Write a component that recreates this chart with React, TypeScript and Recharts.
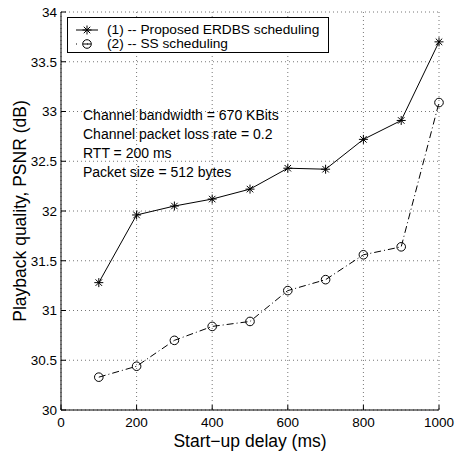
import React from "react";
import { LineChart, Line, XAxis, YAxis, CartesianGrid } from "recharts";

const delays = [100, 200, 300, 400, 500, 600, 700, 800, 900, 1000];
const erdbs = [31.28, 31.96, 32.05, 32.12, 32.22, 32.43, 32.42, 32.72, 32.91, 33.7];
const ss = [30.33, 30.44, 30.7, 30.84, 30.89, 31.2, 31.31, 31.56, 31.64, 33.09];
const xTicks = [0, 200, 400, 600, 800, 1000];
const yTicks = [30, 30.5, 31, 31.5, 32, 32.5, 33, 33.5, 34];
const seriesNames = ["(1) -- Proposed ERDBS scheduling", "(2) -- SS scheduling"];
const notes = [
  "Channel bandwidth = 670 KBits",
  "Channel packet loss rate = 0.2",
  "RTT = 200 ms",
  "Packet size = 512 bytes",
];

const data = delays.map((d, i) => ({ x: d, a: erdbs[i], b: ss[i] }));

const FONT = "'Liberation Sans', Arial, Helvetica, sans-serif";

const Star = ({ cx, cy }: { cx: number; cy: number }) => {
  const r = 4.5;
  const d = r * 0.72;
  return (
    <g stroke="#000" strokeWidth={1}>
      <line x1={cx - r} y1={cy} x2={cx + r} y2={cy} />
      <line x1={cx} y1={cy - r} x2={cx} y2={cy + r} />
      <line x1={cx - d} y1={cy - d} x2={cx + d} y2={cy + d} />
      <line x1={cx - d} y1={cy + d} x2={cx + d} y2={cy - d} />
    </g>
  );
};

const Ring = ({ cx, cy }: { cx: number; cy: number }) => (
  <circle cx={cx} cy={cy} r={4.3} fill="none" stroke="#000" strokeWidth={1} />
);

const LegendBox = () => (
  <div
    style={{
      position: "absolute",
      left: 67,
      top: 17,
      width: 260,
      height: 34,
      border: "1px solid #000",
      background: "#fff",
      fontFamily: FONT,
      fontSize: 13.7,
      color: "#000",
      boxSizing: "content-box",
    }}
  >
    {seriesNames.map((name, i) => (
      <div
        key={name}
        style={{ position: "absolute", left: 0, top: i === 0 ? 5 : 18.5, height: 14, width: 260 }}
      >
        <svg width={36} height={14} style={{ position: "absolute", left: 6, top: 0 }}>
          {i === 0 ? (
            <>
              <line x1={2} y1={7} x2={24} y2={7} stroke="#000" strokeWidth={1} />
              <Star cx={13} cy={7} />
            </>
          ) : (
            <>
              <line x1={2} y1={7} x2={24} y2={7} stroke="#000" strokeWidth={1} strokeDasharray="1 10" />
              <line x1={9} y1={7} x2={17} y2={7} stroke="#000" strokeWidth={1} />
              <Ring cx={13} cy={7} />
            </>
          )}
        </svg>
        <span style={{ position: "absolute", left: 39, top: -1, whiteSpace: "nowrap", lineHeight: "16px" }}>
          {name}
        </span>
      </div>
    ))}
  </div>
);

export default function App() {
  return (
    <div style={{ position: "absolute", left: 0, top: 0, width: 455, height: 453, background: "#fff" }}>
      <LineChart
        width={455}
        height={453}
        data={data}
        margin={{ top: 12, right: 16, left: 0, bottom: 0 }}
        style={{ fontFamily: FONT }}
      >
        <CartesianGrid stroke="#777" strokeDasharray="1 3" strokeWidth={1} />
        <XAxis
          dataKey="x"
          type="number"
          domain={[0, 1000]}
          ticks={xTicks}
          height={43}
          axisLine={{ stroke: "#000" }}
          tickLine={{ stroke: "#000" }}
          tickSize={-5}
          tickMargin={12}
          tick={{ fill: "#000", fontSize: 13.5, fontFamily: FONT }}
          label={{
            value: "Start\u2212up delay (ms)",
            position: "insideBottom",
            offset: 6,
            style: { fill: "#000", fontSize: 17.5, fontFamily: FONT },
          }}
        />
        <XAxis
          xAxisId="top"
          orientation="top"
          dataKey="x"
          type="number"
          domain={[0, 1000]}
          ticks={xTicks}
          height={0}
          axisLine={{ stroke: "#000" }}
          tickLine={{ stroke: "#000" }}
          tickSize={-5}
          tickFormatter={() => ""}
        />
        <YAxis
          type="number"
          domain={[30, 34]}
          ticks={yTicks}
          width={61}
          interval={0}
          axisLine={{ stroke: "#000" }}
          tickLine={{ stroke: "#000" }}
          tickSize={-5}
          tickMargin={9}
          tick={{ fill: "#000", fontSize: 13.5, fontFamily: FONT }}
          label={{
            value: "Playback quality, PSNR (dB)",
            angle: -90,
            position: "insideLeft",
            offset: 20,
            style: { fill: "#000", fontSize: 17.5, fontFamily: FONT, textAnchor: "middle" },
          }}
        />
        <YAxis
          yAxisId="right"
          orientation="right"
          type="number"
          domain={[30, 34]}
          ticks={yTicks}
          width={0}
          interval={0}
          axisLine={{ stroke: "#000" }}
          tickLine={{ stroke: "#000" }}
          tickSize={-5}
          tickFormatter={() => ""}
        />
        <Line
          dataKey="a"
          stroke="#000"
          strokeWidth={1}
          isAnimationActive={false}
          dot={(p: any) => <Star key={`s${p.index}`} cx={p.cx} cy={p.cy} />}
          activeDot={false}
        />
        <Line
          dataKey="b"
          stroke="#000"
          strokeWidth={1}
          strokeDasharray="7 3 1 3"
          isAnimationActive={false}
          dot={(p: any) => <Ring key={`r${p.index}`} cx={p.cx} cy={p.cy} />}
          activeDot={false}
        />
      </LineChart>
      <LegendBox />
      <div
        style={{
          position: "absolute",
          left: 83,
          top: 106,
          fontFamily: FONT,
          fontSize: 14,
          lineHeight: "19px",
          color: "#000",
          whiteSpace: "nowrap",
        }}
      >
        {notes.map((n) => (
          <div key={n}>{n}</div>
        ))}
      </div>
    </div>
  );
}
